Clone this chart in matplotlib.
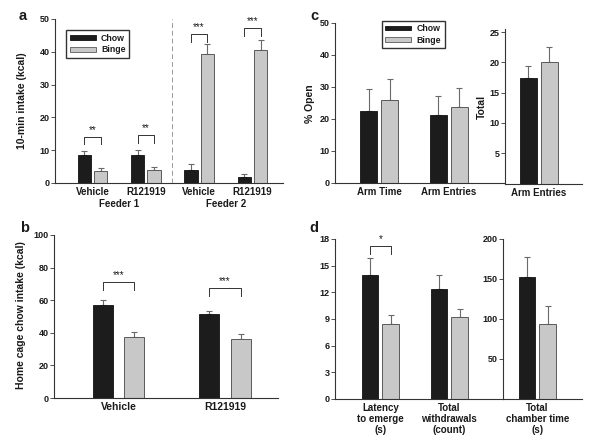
import numpy as np
import matplotlib as mpl
import matplotlib.pyplot as plt
from matplotlib.patches import Patch

mpl.rcParams.update({
    "font.family": ["Liberation Sans", "DejaVu Sans"],
    "font.weight": "bold",
    "font.size": 6.5,
    "axes.spines.top": False,
    "axes.spines.right": False,
    "axes.linewidth": 0.8,
    "axes.edgecolor": "#333333",
    "text.color": "#1a1a1a",
    "xtick.color": "#333333",
    "ytick.color": "#333333",
    "xtick.labelcolor": "#1a1a1a",
    "ytick.labelcolor": "#1a1a1a",
})

# ---- data ----------------------------------------------------------------
a_groups = ["Vehicle", "R121919", "Vehicle", "R121919"]
a_feeders = ["Feeder 1", "Feeder 2"]
a_chow = [8.4, 8.6, 4.0, 1.8]
a_chow_err = [1.4, 1.5, 1.8, 0.8]
a_binge = [3.8, 4.0, 39.4, 40.6]
a_binge_err = [0.8, 0.8, 2.9, 2.9]
a_sig = ["**", "**", "***", "***"]
a_sig_y = [14.1, 14.6, 45.3, 47.2]

b_groups = ["Vehicle", "R121919"]
b_chow = [57.0, 51.5]
b_chow_err = [2.9, 1.7]
b_binge = [37.3, 36.3]
b_binge_err = [3.2, 2.8]
b_sig = ["***", "***"]
b_sig_y = [70.9, 67.2]

c_groups = ["Arm Time", "Arm Entries"]
c_chow = [22.6, 21.2]
c_chow_err = [6.7, 6.1]
c_binge = [26.0, 23.9]
c_binge_err = [6.5, 5.7]
c2_groups = ["Arm Entries"]
c2_chow = [17.4]
c2_chow_err = [2.0]
c2_binge = [20.0]
c2_binge_err = [2.5]

d_groups = ["Latency\nto emerge\n(s)", "Total\nwithdrawals\n(count)"]
d_chow = [14.0, 12.4]
d_chow_err = [1.9, 1.5]
d_binge = [8.4, 9.2]
d_binge_err = [1.1, 0.9]
d_sig = ["*", ""]
d_sig_y = [17.2, None]
d2_groups = ["Total\nchamber time\n(s)"]
d2_chow = [152.5]
d2_chow_err = [24.5]
d2_binge = [93.3]
d2_binge_err = [22.7]

C_CHOW = "#1c1c1c"
C_BINGE = "#c8c8c8"
E_BINGE = "#5a5a5a"
C_ERR = "#6a6a6a"

W, H = 600, 441
fig = plt.figure(figsize=(W / 100, H / 100), dpi=100)


def px_axes(left, right, top, bottom):
    return fig.add_axes([left / W, 1 - bottom / H, (right - left) / W, (bottom - top) / H])


def bars(ax, chow, chow_err, binge, binge_err, width, off):
    x = np.arange(len(chow))
    ax.bar(x - off, chow, width, color=C_CHOW, edgecolor="#111111", lw=0.6, zorder=2)
    ax.bar(x + off, binge, width, color=C_BINGE, edgecolor=E_BINGE, lw=0.7, zorder=2)
    ax.errorbar(x - off, chow, yerr=[np.zeros(len(chow)), chow_err], fmt="none",
                ecolor=C_ERR, elinewidth=0.8, capsize=2.4, capthick=0.8, zorder=1)
    ax.errorbar(x + off, binge, yerr=[np.zeros(len(binge)), binge_err], fmt="none",
                ecolor=C_ERR, elinewidth=0.8, capsize=2.4, capthick=0.8, zorder=1)
    return x


def bracket(ax, x1, x2, y, text, leg_px=7.5):
    ax_h = ax.get_window_extent().height
    lo, hi = ax.get_ylim()
    leg = leg_px / ax_h * (hi - lo)
    ax.plot([x1, x1, x2, x2], [y - leg, y, y, y - leg], color="#333333", lw=0.7,
            clip_on=False, zorder=3)
    ax.annotate(text, ((x1 + x2) / 2, y), xytext=(0, 1.5), textcoords="offset points",
                ha="center", va="bottom", fontsize=7, fontweight="normal")


def style(ax, ticks, labels, fs=7, yticks=None):
    ax.set_xticks(ticks)
    ax.set_xticklabels(labels, fontsize=fs, fontweight="bold", linespacing=1.1)
    ax.tick_params(axis="x", length=0, pad=3)
    ax.tick_params(axis="y", length=3, width=0.6, pad=0.8, labelsize=6.5)
    if yticks is not None:
        ax.set_yticks(yticks)


def legend(ax, x0, y0, x1, y1):
    handles = [Patch(facecolor=C_CHOW, edgecolor="#111111", lw=0.6, label="Chow"),
               Patch(facecolor=C_BINGE, edgecolor=E_BINGE, lw=0.6, label="Binge")]
    fig.legend(handles=handles, loc="center",
               bbox_to_anchor=((x0 + x1) / 2 / W, 1 - (y0 + y1) / 2 / H),
               fontsize=6.3, frameon=True, fancybox=False, edgecolor="#333333",
               handlelength=3.0, handleheight=0.45, handletextpad=0.6,
               borderpad=0.4, labelspacing=0.3, framealpha=1)


# ---- panel a ---------------------------------------------------------------
ax = px_axes(55, 283, 19, 183)
x = bars(ax, a_chow, a_chow_err, a_binge, a_binge_err, 0.25, 0.154)
ax.set_xlim(-0.704, 3.574)
ax.set_ylim(0, 50)
style(ax, x, a_groups, yticks=[0, 10, 20, 30, 40, 50])
ax.axvline(1.5, color="#999999", lw=0.7, ls=(0, (5, 3)), zorder=0)
for i, (s, y) in enumerate(zip(a_sig, a_sig_y)):
    bracket(ax, x[i] - 0.154, x[i] + 0.154, y, s)
for j, name in enumerate(a_feeders):
    ax.annotate(name, (2 * j + 0.5, 0), xycoords=("data", "axes fraction"),
                xytext=(0, -15.1), textcoords="offset points",
                ha="center", va="center", fontsize=7, fontweight="bold")
fig.text(22 / W, 1 - 101 / H, "10-min intake (kcal)", rotation=90,
         ha="center", va="center", fontsize=7.5, fontweight="bold")
legend(ax, 68, 30, 127, 58)

# ---- panel b ---------------------------------------------------------------
ax = px_axes(54, 278, 235, 398)
x = bars(ax, b_chow, b_chow_err, b_binge, b_binge_err, 0.188, 0.146)
ax.set_xlim(-0.606, 1.498)
ax.set_ylim(0, 100)
style(ax, x, b_groups, fs=7.5, yticks=[0, 20, 40, 60, 80, 100])
for i, (s, y) in enumerate(zip(b_sig, b_sig_y)):
    bracket(ax, x[i] - 0.146, x[i] + 0.146, y, s)
fig.text(20.7 / W, 1 - 315 / H, "Home cage chow intake (kcal)", rotation=90,
         ha="center", va="center", fontsize=7.5, fontweight="bold")

# ---- panel c ---------------------------------------------------------------
ax = px_axes(335, 505, 23, 183)
x = bars(ax, c_chow, c_chow_err, c_binge, c_binge_err, 0.245, 0.15)
ax.set_xlim(-0.637, 1.809)
ax.set_ylim(0, 50)
style(ax, x, c_groups, yticks=[0, 10, 20, 30, 40, 50])
fig.text(310 / W, 1 - 104 / H, "% Open", rotation=90,
         ha="center", va="center", fontsize=7.5, fontweight="bold")
legend(ax, 383, 22, 443, 47)

ax = px_axes(505, 582, 29.2, 183.5)
x = bars(ax, c2_chow, c2_chow_err, c2_binge, c2_binge_err, 0.245, 0.15)
ax.set_xlim(-0.485, 0.623)
ax.set_ylim(0, 25.5)
style(ax, x, c2_groups, yticks=[5, 10, 15, 20, 25])
fig.text(481.7 / W, 1 - 107 / H, "Total", rotation=90,
         ha="center", va="center", fontsize=7.5, fontweight="bold")

# ---- panel d ---------------------------------------------------------------
ax = px_axes(335, 503, 239, 399)
x = bars(ax, d_chow, d_chow_err, d_binge, d_binge_err, 0.24, 0.15)
ax.set_xlim(-0.657, 1.778)
ax.set_ylim(0, 18)
style(ax, x, d_groups, yticks=[0, 3, 6, 9, 12, 15, 18])
for i, (s, y) in enumerate(zip(d_sig, d_sig_y)):
    if s:
        bracket(ax, x[i] - 0.15, x[i] + 0.15, y, s)

ax = px_axes(503, 582, 239, 399)
x = bars(ax, d2_chow, d2_chow_err, d2_binge, d2_binge_err, 0.24, 0.15)
ax.set_xlim(-0.496, 0.649)
ax.set_ylim(0, 200)
style(ax, x, d2_groups, yticks=[50, 100, 150, 200])

# ---- panel letters ---------------------------------------------------------
for lab, (px, py) in {"a": (23, 16), "b": (25, 228), "c": (314, 16), "d": (314, 228)}.items():
    fig.text(px / W, 1 - py / H, lab, ha="center", va="center",
             fontsize=10.5, fontweight="bold")

fig.savefig("out.png", dpi=100)
